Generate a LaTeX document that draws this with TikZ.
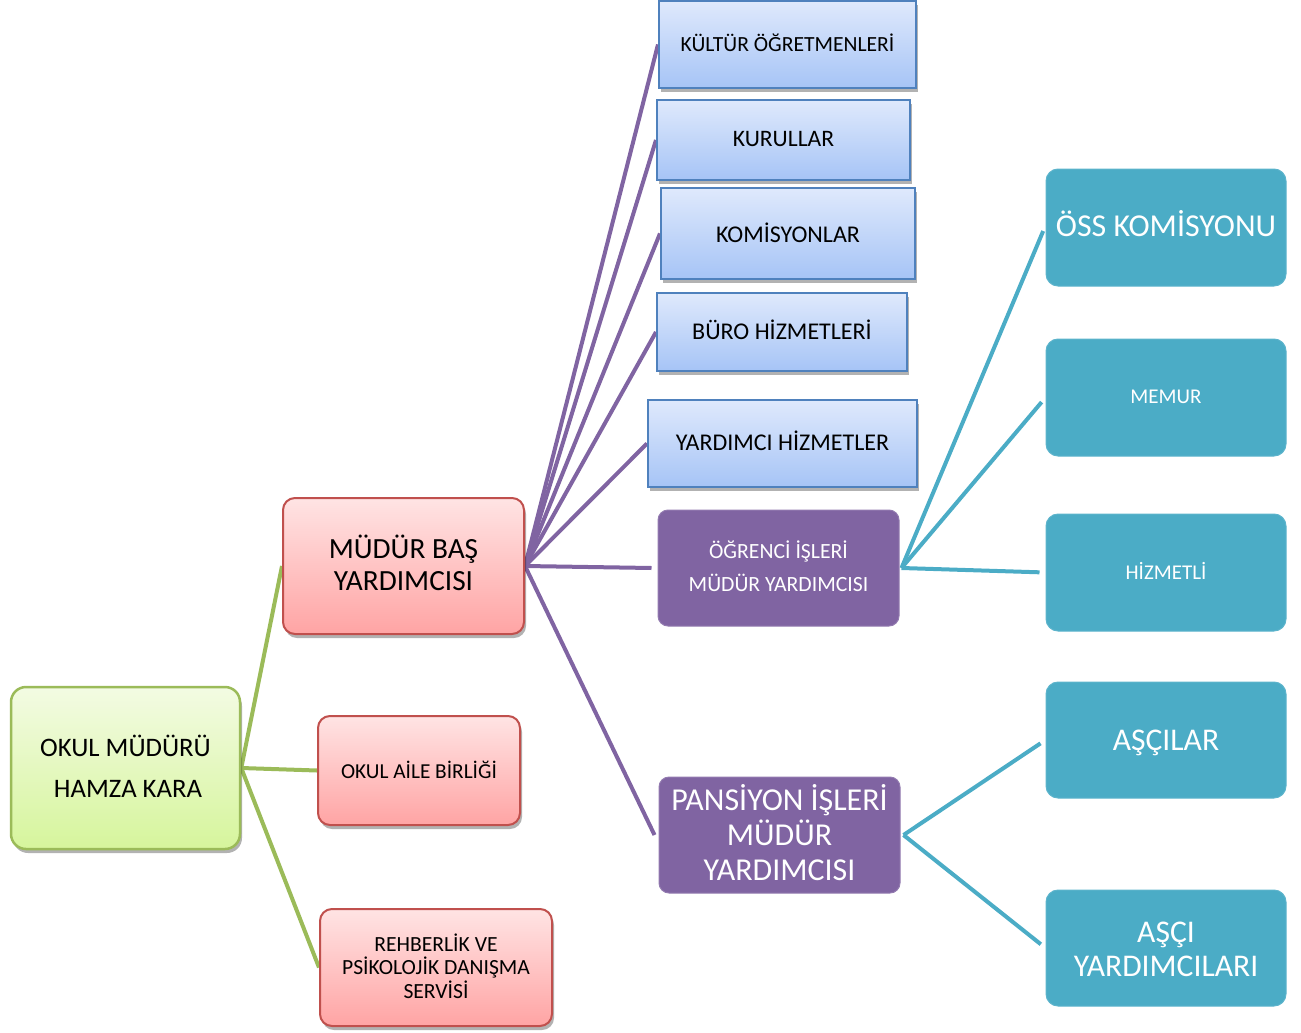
\documentclass[tikz,border=0pt]{standalone}
\usepackage{fontspec}
\setmainfont{Carlito}
\usetikzlibrary{shadows,backgrounds}
\definecolor{gborder}{HTML}{9BBB59}
\definecolor{gtop}{HTML}{F3FBE3}
\definecolor{gbot}{HTML}{D6F59C}
\definecolor{rborder}{HTML}{C0504D}
\definecolor{rtop}{HTML}{FFE4E4}
\definecolor{rbot}{HTML}{FFA4A4}
\definecolor{bborder}{HTML}{4F81BD}
\definecolor{btop}{HTML}{DFE9FC}
\definecolor{bbot}{HTML}{A6C4F6}
\definecolor{purp}{HTML}{8064A2}
\definecolor{teal}{HTML}{4BACC6}
\newcommand{\fs}[2]{\fontsize{#1pt}{#2pt}\selectfont}
\tikzset{
  boxbase/.style={inner sep=0pt, anchor=center},
  lbl/.style={inner sep=0pt, align=center, anchor=center},
  shad/.style={drop shadow={shadow xshift=2pt, shadow yshift=-4pt, opacity=0.3, fill=black}},
  greenbox/.style={boxbase, shad, draw=gborder, line width=2.5pt, rounded corners=15pt, top color=gtop, bottom color=gbot, label/.append style={text=black}},
  redbox/.style={boxbase, shad, draw=rborder, line width=2pt, rounded corners=12pt, top color=rtop, bottom color=rbot},
  bluebox/.style={boxbase, shad, draw=bborder, line width=2pt, top color=btop, bottom color=bbot},
  purplebox/.style={boxbase, fill=purp, draw=purp!85!white, line width=1pt, rounded corners=10pt},
  tealbox/.style={boxbase, fill=teal, draw=teal!90!white, line width=1pt, rounded corners=12pt},
  gline/.style={draw=gborder, line width=4pt},
  pline/.style={draw=purp, line width=4pt},
  tline/.style={draw=teal, line width=4pt, shorten >=6pt},
}
\begin{document}
\begin{tikzpicture}[x=1pt,y=-1pt]
\useasboundingbox (0,0) rectangle (1301,1033);
% root
\node[greenbox, minimum width=229pt, minimum height=162pt,
  label={[lbl, text=black, font=\fs{26.7}{41}, yshift=2pt]center:{OKUL MÜDÜRÜ\\ \hspace*{5pt}HAMZA KARA}}] (om) at (125.5,768) {};
% level 1
\node[redbox, minimum width=241pt, minimum height=136pt,
  label={[lbl, text=black, font=\fs{29.3}{32}, yshift=3pt]center:{MÜDÜR BAŞ\\YARDIMCISI}}] (mby) at (403.5,566) {};
\node[redbox, minimum width=202pt, minimum height=109pt,
  label={[lbl, text=black, font=\fs{21.3}{24}, yshift=1pt]center:{OKUL AİLE BİRLİĞİ}}] (oab) at (419,770.5) {};
\node[redbox, minimum width=232pt, minimum height=117pt,
  label={[lbl, text=black, font=\fs{21.6}{23.5}, yshift=1.5pt]center:{REHBERLİK VE\\PSİKOLOJİK DANIŞMA\\SERVİSİ}}] (reh) at (436,967.5) {};
% blue boxes
\node[bluebox, minimum width=257pt, minimum height=87pt,
  label={[lbl, text=black, font=\fs{21.6}{24}, yshift=2pt]center:{KÜLTÜR ÖĞRETMENLERİ}}] (kul) at (787.5,44.5) {};
\node[bluebox, minimum width=253pt, minimum height=80pt,
  label={[lbl, text=black, font=\fs{23.6}{26}, yshift=1pt]center:{KURULLAR}}] (kur) at (783.5,140) {};
\node[bluebox, minimum width=254pt, minimum height=91pt,
  label={[lbl, text=black, font=\fs{24}{26}, yshift=1pt]center:{KOMİSYONLAR}}] (kom) at (788,233.5) {};
\node[bluebox, minimum width=250pt, minimum height=78pt,
  label={[lbl, text=black, font=\fs{24}{26}, yshift=2pt]center:{BÜRO HİZMETLERİ}}] (buro) at (782,332) {};
\node[bluebox, minimum width=269pt, minimum height=87pt,
  label={[lbl, text=black, font=\fs{24}{26}, yshift=3pt]center:{YARDIMCI HİZMETLER}}] (yar) at (782.5,443.5) {};
% purple boxes
\node[purplebox, minimum width=241pt, minimum height=116pt,
  label={[lbl, text=white, font=\fs{21.7}{33}, yshift=2pt]center:{ÖĞRENCİ İŞLERİ\\MÜDÜR YARDIMCISI}}] (ogr) at (778.5,568) {};
\node[purplebox, minimum width=241pt, minimum height=116pt,
  label={[lbl, text=white, font=\fs{31.9}{35}, yshift=2pt]center:{PANSİYON İŞLERİ\\MÜDÜR\\YARDIMCISI}}] (pan) at (779.5,835) {};
% teal boxes
\node[tealbox, minimum width=240pt, minimum height=117pt,
  label={[lbl, text=white, font=\fs{31.9}{34}, yshift=4pt]center:{ÖSS KOMİSYONU}}] (oss) at (1166,227.5) {};
\node[tealbox, minimum width=240pt, minimum height=117pt,
  label={[lbl, text=white, font=\fs{21}{24}, yshift=1pt]center:{MEMUR}}] (mem) at (1166,397.5) {};
\node[tealbox, minimum width=240pt, minimum height=117pt,
  label={[lbl, text=white, font=\fs{21}{24}, yshift=2pt]center:{HİZMETLİ}}] (hiz) at (1166,572.5) {};
\node[tealbox, minimum width=240pt, minimum height=116pt,
  label={[lbl, text=white, font=\fs{31.6}{34}, yshift=-3pt]center:{AŞÇILAR}}] (asc) at (1166,740) {};
\node[tealbox, minimum width=240pt, minimum height=116pt,
  label={[lbl, text=white, font=\fs{31.6}{34}, yshift=-1pt]center:{AŞÇI\\YARDIMCILARI}}] (ascy) at (1166,948) {};
% connectors
\begin{pgfonlayer}{background}
\draw[gline] (om.east) -- (mby.west);
\draw[gline] (om.east) -- (oab.west);
\draw[gline] (om.east) -- (reh.west);
\draw[pline] (mby.east) -- (kul.west);
\draw[pline] (mby.east) -- (kur.west);
\draw[pline] (mby.east) -- (kom.west);
\draw[pline] (mby.east) -- (buro.west);
\draw[pline] (mby.east) -- (yar.west);
\draw[pline] (mby.east) -- ([xshift=-6pt]ogr.west);
\draw[pline] (mby.east) -- ([xshift=-4pt]pan.west);
\draw[tline] ([xshift=2pt]ogr.east) -- ([yshift=2pt]oss.west);
\draw[tline] ([xshift=2pt]ogr.east) -- (mem.west);
\draw[tline] ([xshift=2pt]ogr.east) -- (hiz.west);
\draw[tline] ([xshift=3pt]pan.east) -- (asc.west);
\draw[tline] ([xshift=3pt]pan.east) -- (ascy.west);
\end{pgfonlayer}
\end{tikzpicture}
\end{document}
